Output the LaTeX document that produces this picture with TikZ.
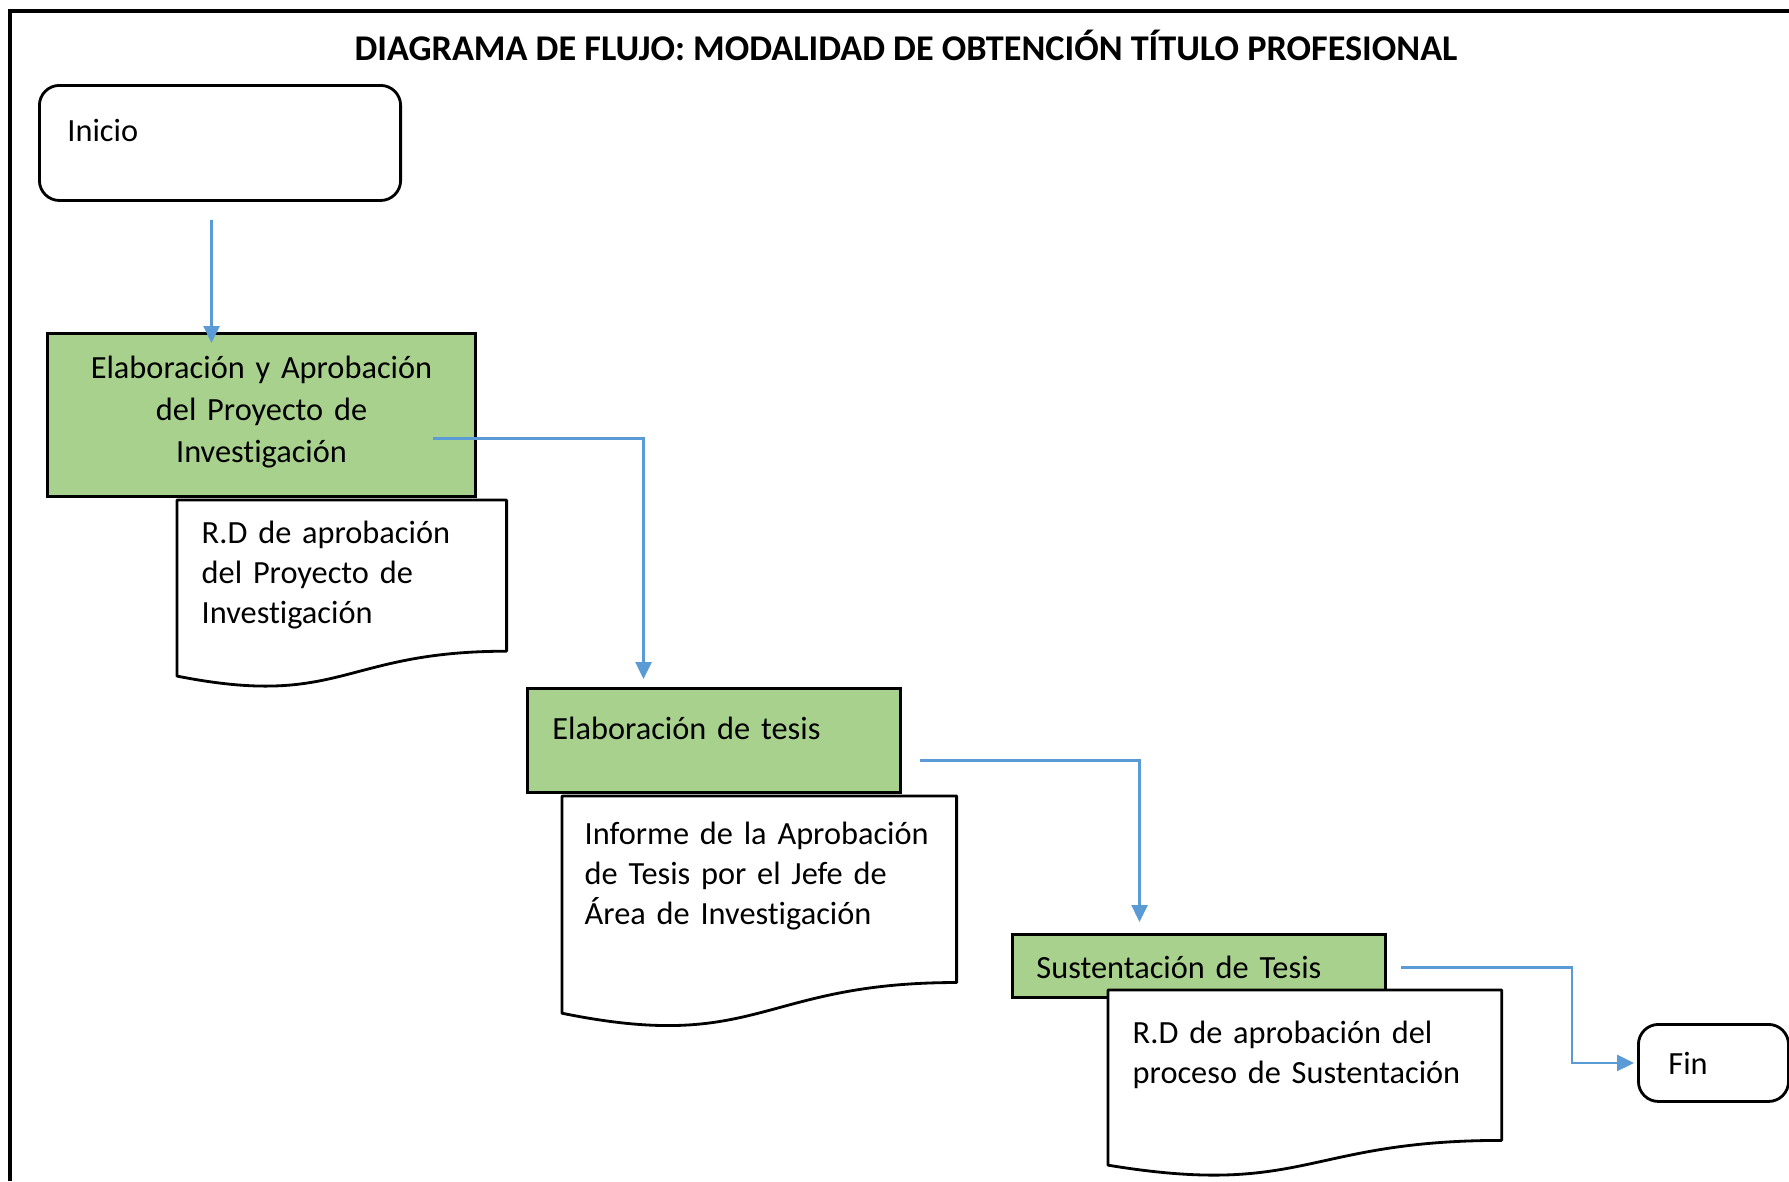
\documentclass[tikz,border=0pt]{standalone}
\usepackage{fontspec}
\setmainfont{Carlito}[Ligatures=NoCommon]
\usetikzlibrary{arrows.meta,calc}
\definecolor{procgreen}{HTML}{A9D18E}
\definecolor{flowblue}{HTML}{5B9BD5}

\begin{document}
\begin{tikzpicture}[x=0.01cm, y=-0.01cm,
        startstop/.style={rectangle, draw, rounded corners=0.2cm, line width=0.8pt, anchor=north west, align=left, inner ysep=0pt, font=\fontsize{9.2}{11.4}\selectfont},
        process/.style={rectangle, draw, fill=procgreen, line width=0.8pt, anchor=north west, inner ysep=0pt, font=\fontsize{9.2}{11.4}\selectfont},
        docbox/.style={rectangle, fill=white, anchor=north west, align=left, inner ysep=0pt, font=\fontsize{9.2}{11.4}\selectfont},
        docline/.style={line width=0.8pt, line join=round},
        flow/.style={draw=flowblue, line width=0.75pt, -{Triangle[length=0.17cm, width=0.16cm]}}]

        \useasboundingbox (0,0) rectangle (1789,1181);
        % frame
        \draw[line width=0.9pt] (1789,11) -- (10,11) -- (10,1181);

        \node[anchor=base, font=\bfseries\fontsize{10.3}{12}\selectfont] (titulo) at (906,60)
            {DIAGRAMA DE FLUJO: MODALIDAD DE OBTENCIÓN TÍTULO PROFESIONAL};

        \node[startstop, inner xsep=0.28cm, text width=3.05cm, text height=0.56cm, text depth=0.59cm] (inicio) at (38,84) {Inicio};

        \node[process, align=center, inner xsep=0.2cm, text width=3.88cm, text height=0.45cm, text depth=1.18cm,
            font=\fontsize{9.2}{11.9}\selectfont] (proyecto) at (46,332)
            {Elaboración y Aprobación\\del Proyecto de\\Investigación};
        \node[docbox, inner xsep=0.24cm, text width=2.8cm, text height=0.43cm, text depth=1.44cm] (rdproyecto) at (177,500)
            {R.D de aprobación\\del Proyecto de\\Investigación};

        \node[process, align=left, inner xsep=0.25cm, text width=3.23cm, text height=0.51cm, text depth=0.53cm] (tesis) at (526,687)
            {Elaboración de tesis};
        \node[docbox, inner xsep=0.22cm, text width=3.49cm, text height=0.48cm, text depth=1.83cm] (informe) at (562,796)
            {Informe de la Aprobación\\de Tesis por el Jefe de\\Área de Investigación};

        \node[process, align=left, inner xsep=0.24cm, text width=3.25cm, text height=0.44cm, text depth=0.19cm] (sustentacion) at (1011,933)
            {Sustentación de Tesis};
        \node[docbox, inner xsep=0.24cm, text width=3.44cm, text height=0.53cm, text depth=1.33cm] (rdsustentacion) at (1108,990)
            {R.D de aprobación del\\proceso de Sustentación};

        \node[startstop, inner xsep=0.3cm, text width=0.9cm, text height=0.5cm, text depth=0.27cm] (fin) at (1637,1023) {Fin};

        % document outlines
        \draw[docline] (rdproyecto.north west) -- (rdproyecto.north east) -- ($(rdproyecto.north east)!0.802!(rdproyecto.south east)$)
            .. controls ($(rdproyecto.north)!0.802!(rdproyecto.south)$) and ($(rdproyecto.north)!1.107!(rdproyecto.south)$)
            .. ($(rdproyecto.north west)!0.934!(rdproyecto.south west)$) -- cycle;
        \draw[docline] (informe.north west) -- (informe.north east) -- ($(informe.north east)!0.802!(informe.south east)$)
            .. controls ($(informe.north)!0.802!(informe.south)$) and ($(informe.north)!1.107!(informe.south)$)
            .. ($(informe.north west)!0.934!(informe.south west)$) -- cycle;
        \draw[docline] (rdsustentacion.north west) -- (rdsustentacion.north east) -- ($(rdsustentacion.north east)!0.802!(rdsustentacion.south east)$)
            .. controls ($(rdsustentacion.north)!0.802!(rdsustentacion.south)$) and ($(rdsustentacion.north)!1.107!(rdsustentacion.south)$)
            .. ($(rdsustentacion.north west)!0.934!(rdsustentacion.south west)$) -- cycle;

        % connectors
        \draw[flow] ($(inicio.south)+(-8.5,18)$) -- ($(proyecto.north)+(-50,11)$);
        \draw[flow] ($(proyecto.center)+(171,23.5)$) -| ($(tesis.north)+(-70.5,-8)$);
        \draw[flow] ($(tesis.east)+(18,20)$) -| ($(sustentacion.north)+(-59.5,-11)$);
        \draw[flow] ($(sustentacion.east)+(14,1.5)$) -- ++(171,0) |- ($(fin.west)+(-3,0)$);
    \end{tikzpicture}
\end{document}
